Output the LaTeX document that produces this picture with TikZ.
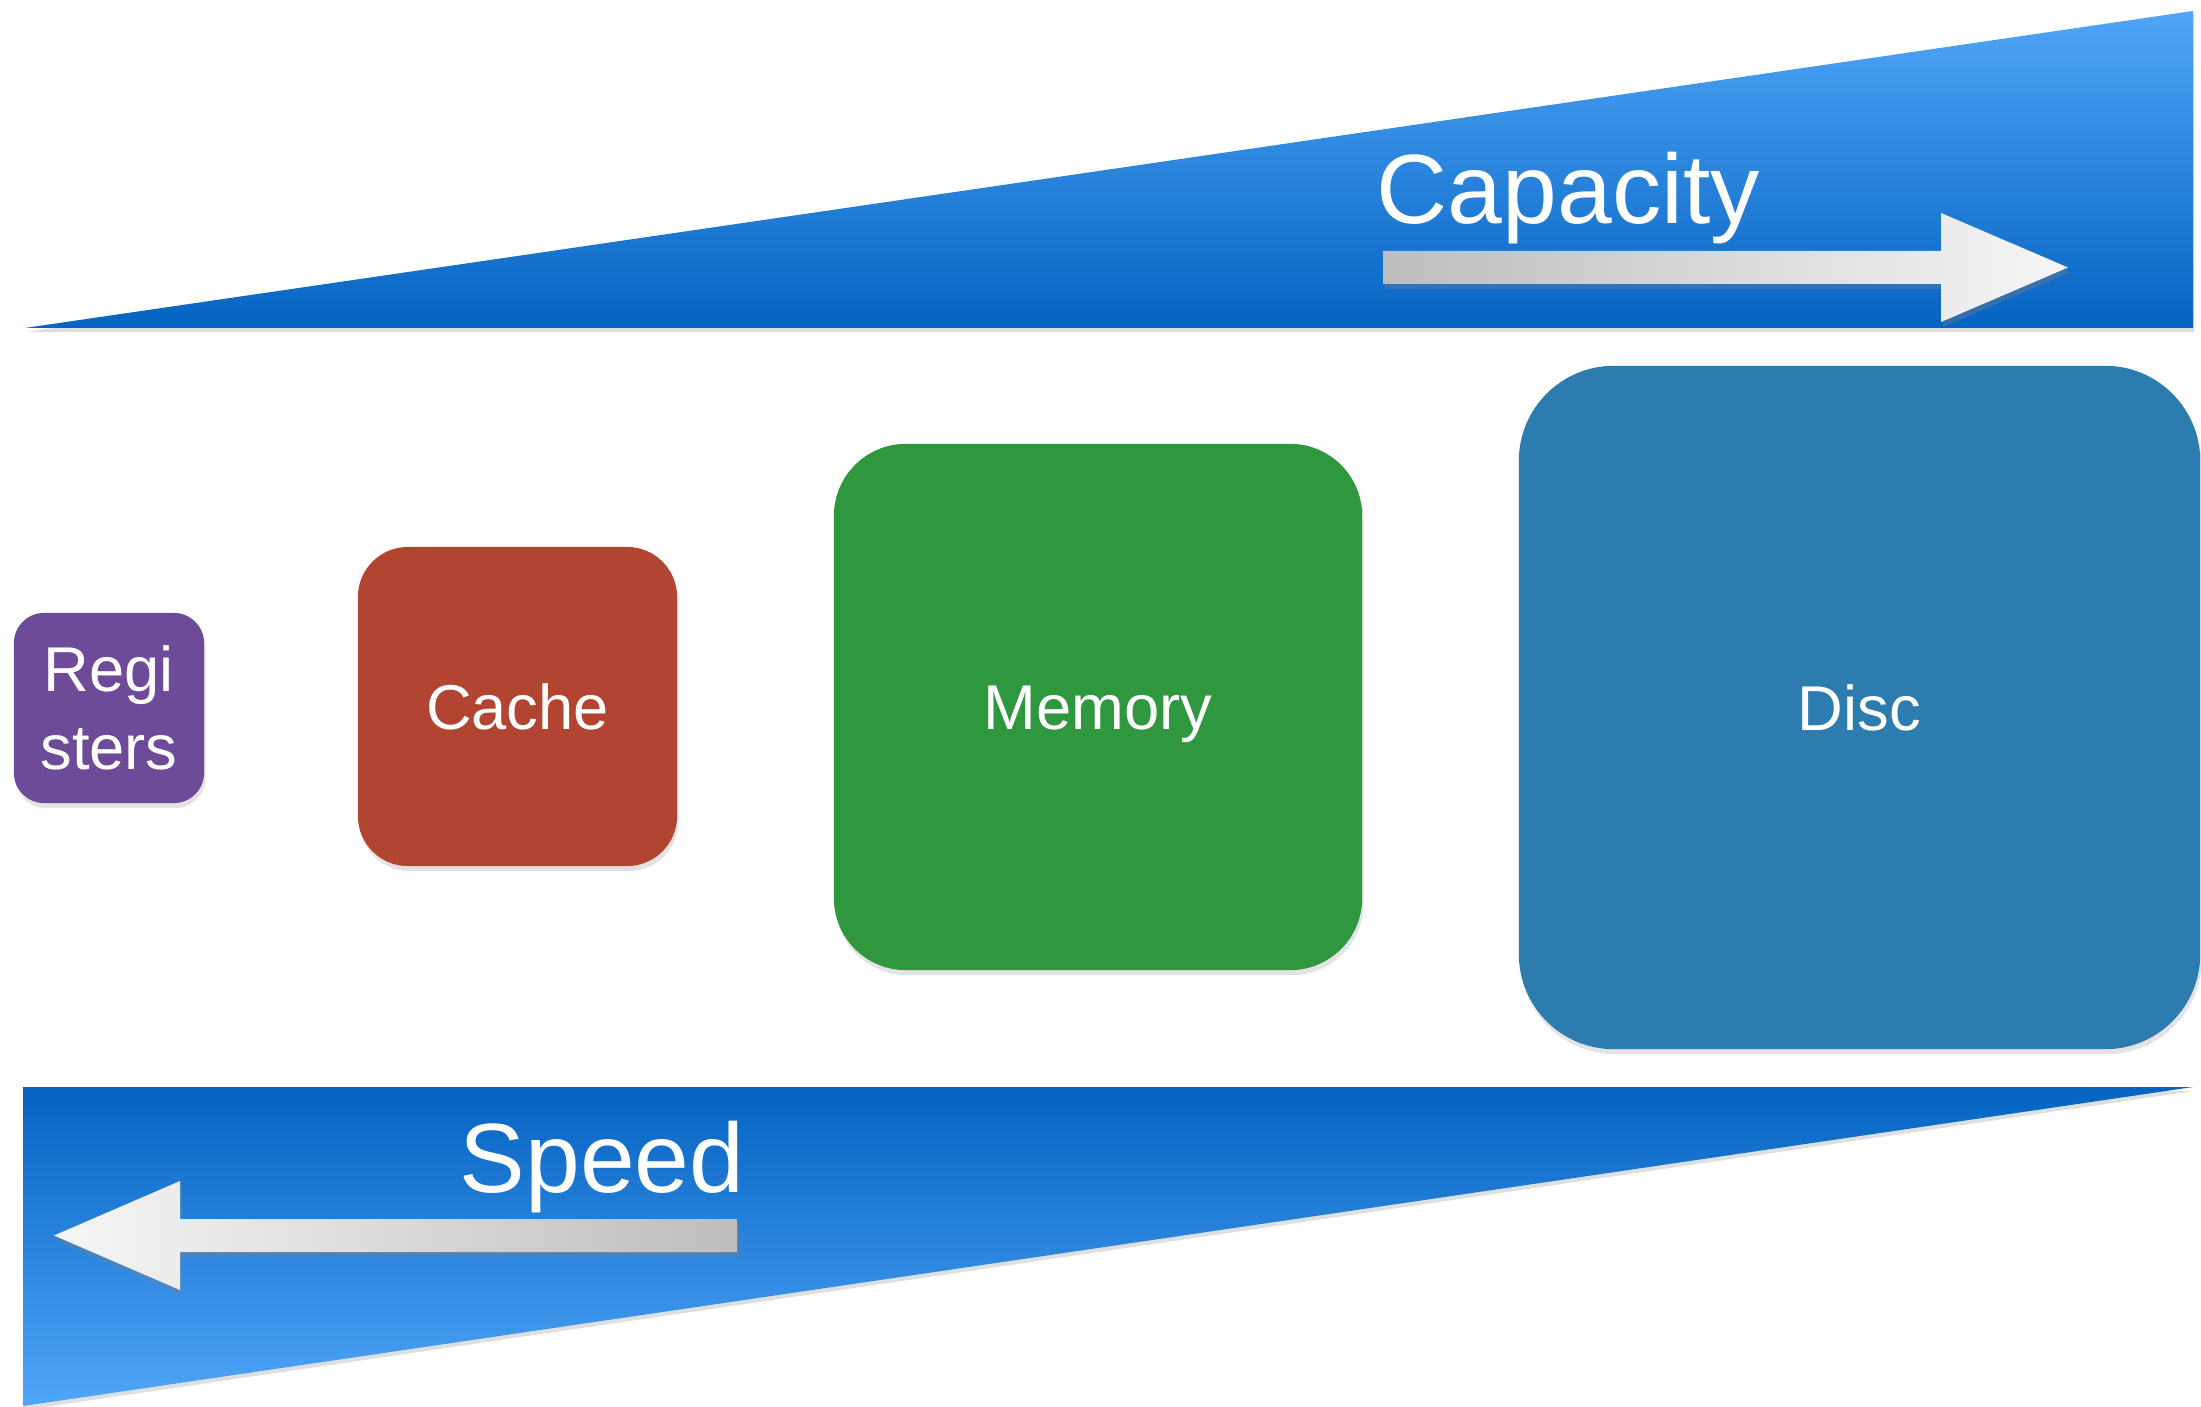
\documentclass[tikz,border=0pt]{standalone}
\usepackage{fontspec}
\setmainfont{Liberation Sans}
\usetikzlibrary{shadows}
\definecolor{regcol}{HTML}{6E4B99}
\definecolor{cachecol}{HTML}{B24532}
\definecolor{memcol}{HTML}{2F983F}
\definecolor{disccol}{HTML}{2D7CAF}
\definecolor{bluelight}{HTML}{50A6F8}
\definecolor{bluedark}{HTML}{0563C1}
\definecolor{arrowlight}{HTML}{F6F6F6}
\definecolor{arrowdark}{HTML}{BDBDBD}
\begin{document}
\begin{tikzpicture}[x=0.01cm,y=-0.01cm,
  membox/.style={draw=none, inner sep=0pt, text=white,
    font=\fontsize{18}{22}\selectfont,
    drop shadow={shadow xshift=0.015cm, shadow yshift=-0.05cm, opacity=0.22}},
  bigtext/.style={inner sep=0pt, text=white, font=\fontsize{28}{34}\selectfont},
  wedge/.style={drop shadow={shadow xshift=0.01cm, shadow yshift=-0.04cm, opacity=0.25}},
  flatarrow/.style={drop shadow={shadow xshift=0.02cm, shadow yshift=-0.05cm, opacity=0.35}}]
\useasboundingbox[fill=white] (0,0) rectangle (2201,1407);

% capacity wedge
\path[wedge, top color=bluelight, bottom color=bluedark]
  (25,328) -- (2193,11) -- (2193,328) -- cycle;
% speed wedge
\path[wedge, top color=bluedark, bottom color=bluelight]
  (23,1087) -- (2193,1087) -- (23,1406) -- cycle;

% arrows
\path[flatarrow, left color=arrowdark, right color=arrowlight]
  (1383,251) -- (1941,251) -- (1941,213) -- (2068,267.5) -- (1941,322)
  -- (1941,284) -- (1383,284) -- cycle;
\path[flatarrow, left color=arrowlight, right color=arrowdark]
  (54,1235.5) -- (180,1181) -- (180,1219) -- (737,1219) -- (737,1252)
  -- (180,1252) -- (180,1290) -- cycle;

\node[bigtext, anchor=base west] (cap) at (1376,224) {Capacity};
\node[bigtext, anchor=base west] (spd) at (459,1192) {Speed};

% boxes
\node[membox, fill=regcol, minimum width=1.90cm, minimum height=1.90cm,
  rounded corners=0.3cm, align=center] (reg) at (109,708) {Regi\\sters};
\node[membox, fill=cachecol, minimum width=3.19cm, minimum height=3.19cm,
  rounded corners=0.5cm, text height=12.9pt, text depth=0pt] (cache) at (517.5,706.5) {Cache};
\node[membox, fill=memcol, minimum width=5.28cm, minimum height=5.26cm,
  rounded corners=0.72cm, text height=12.9pt, text depth=0pt] (mem) at (1098,707) {Memory};
\node[membox, fill=disccol, minimum width=6.81cm, minimum height=6.83cm,
  rounded corners=0.95cm, text height=12.9pt, text depth=0pt] (disc) at (1859.5,707.5) {Disc};
\end{tikzpicture}
\end{document}
